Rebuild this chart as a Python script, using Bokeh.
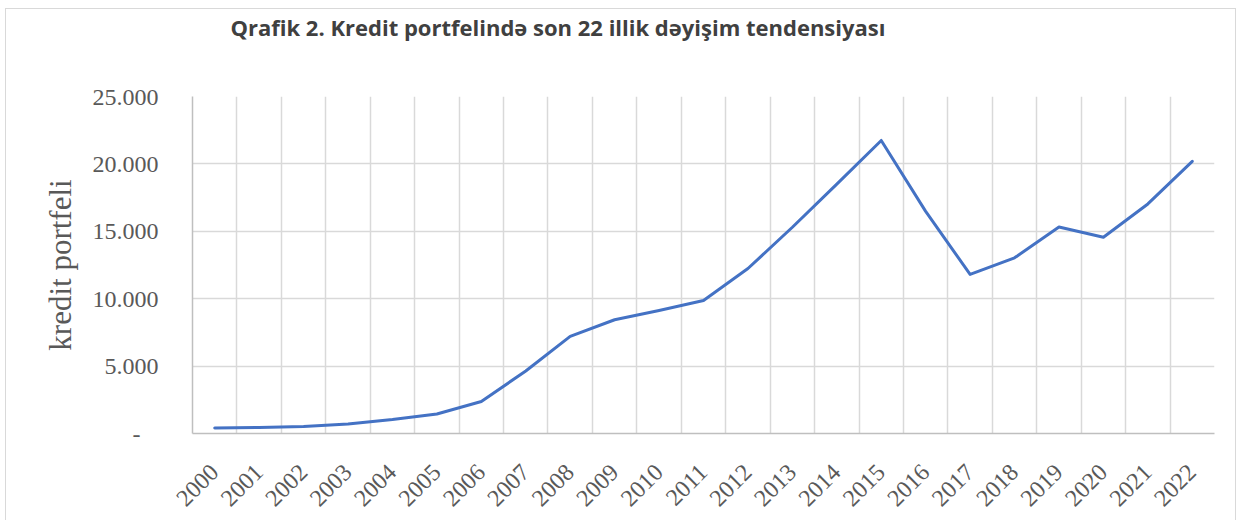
import math
from bokeh.plotting import figure
from bokeh.models import Range1d, FixedTicker, Title
from bokeh.embed import file_html
from bokeh.resources import INLINE

years = [str(y) for y in range(2000, 2023)]
credit = [410, 440, 520, 710, 1040, 1450, 2370, 4640, 7210, 8440, 9130, 9870,
          12240, 15300, 18500, 21740, 16480, 11800, 13030, 15320, 14560, 17030, 20190]
y_ticks = [0, 5000, 10000, 15000, 20000, 25000]
y_tick_labels = ["-\u00a0\u00a0\u00a0", "5.000", "10.000", "15.000", "20.000", "25.000"]
title_text = "Qrafik 2. Kredit portfelində son 22 illik dəyişim tendensiyası"
y_label = "kredit portfeli"

n = len(years)
xs = [i + 0.5 for i in range(n)]

p = figure(width=1231, height=512, output_backend="svg", toolbar_location=None,
           x_range=Range1d(0, n), y_range=Range1d(0, 25000),
           min_border_left=186, min_border_right=23, min_border_top=86, min_border_bottom=88,
           outline_line_color=None, title=None,
           styles={"border-top": "1px solid #d9d9d9", "border-left": "1px solid #d9d9d9",
                   "border-right": "1px solid #d9d9d9",
                   "margin-left": "5px", "margin-top": "8px"})

# blank spacer panel between frame and title (white on white)
spacer = Title(text="\u00a0", text_font="Open Sans", text_font_size="22px",
               text_color="white", standoff=23)
p.add_layout(spacer, "above")

t = Title(text=title_text, align="left", offset=38, text_font="Open Sans",
          text_font_style="bold", text_font_size="22px", text_color="#404040",
          standoff=0)
p.add_layout(t, "above")

p.line(xs, credit, line_color="#4472C4", line_width=3, line_join="round", line_cap="round")

# axes
p.xaxis.ticker = FixedTicker(ticks=xs)
p.xaxis.major_label_overrides = {x: y for x, y in zip(xs, years)}
p.xaxis.major_label_orientation = math.pi / 4
p.yaxis.ticker = FixedTicker(ticks=y_ticks)
p.yaxis.major_label_overrides = {v: l for v, l in zip(y_ticks, y_tick_labels)}

for ax in (p.xaxis[0], p.yaxis[0]):
    ax.major_tick_line_color = None
    ax.minor_tick_line_color = None
    ax.axis_line_color = "#bfbfbf"
    ax.axis_line_width = 1.5
    ax.major_label_text_font = "Liberation Serif"
    ax.major_label_text_font_size = "24px"
    ax.major_label_text_color = "#595959"

p.xaxis.major_label_standoff = 29
p.yaxis.major_label_standoff = 28
p.yaxis.axis_label = y_label
p.yaxis.axis_label_text_font = "Liberation Serif"
p.yaxis.axis_label_text_font_size = "31px"
p.yaxis.axis_label_text_font_style = "normal"
p.yaxis.axis_label_text_color = "#595959"
p.yaxis.axis_label_standoff = 12

# grids
p.xgrid.ticker = FixedTicker(ticks=list(range(n + 1)))
p.ygrid.ticker = FixedTicker(ticks=y_ticks)
for g in (p.xgrid[0], p.ygrid[0]):
    g.grid_line_color = "#d9d9d9"
    g.grid_line_width = 1.5

open("out.html", "w").write(file_html(p, INLINE))
